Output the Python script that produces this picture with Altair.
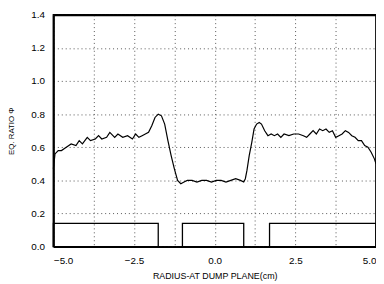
import altair as alt
import pandas as pd

radius = [-5.0, -4.95, -4.85, -4.75, -4.6, -4.45, -4.3, -4.2, -4.1, -3.95, -3.85, -3.7, -3.6, -3.5,
          -3.35, -3.25, -3.1, -3.0, -2.85, -2.7, -2.55, -2.45, -2.35, -2.25, -2.15, -2.05, -1.95,
          -1.85, -1.75, -1.65, -1.55, -1.45, -1.35, -1.25, -1.15, -1.05, -0.95, -0.85, -0.7, -0.55,
          -0.4, -0.25, -0.1, 0.05, 0.2, 0.35, 0.5, 0.65, 0.8, 0.9, 0.95, 1.0, 1.07, 1.15, 1.22, 1.3,
          1.38, 1.45, 1.55, 1.65, 1.75, 1.85, 1.95, 2.05, 2.15, 2.3, 2.45, 2.6, 2.75, 2.85, 2.95,
          3.05, 3.15, 3.25, 3.35, 3.45, 3.55, 3.65, 3.75, 3.85, 3.95, 4.05, 4.15, 4.25, 4.35, 4.45,
          4.55, 4.65, 4.75, 4.85, 4.95, 5.0]
ratio = [0.47, 0.56, 0.58, 0.58, 0.60, 0.62, 0.61, 0.64, 0.62, 0.66, 0.64, 0.65, 0.67, 0.65,
         0.66, 0.69, 0.66, 0.68, 0.66, 0.67, 0.65, 0.68, 0.66, 0.67, 0.68, 0.69, 0.73,
         0.78, 0.80, 0.79, 0.74, 0.64, 0.55, 0.47, 0.40, 0.38, 0.39, 0.40, 0.40, 0.39,
         0.40, 0.40, 0.39, 0.40, 0.40, 0.39, 0.40, 0.41, 0.40, 0.39, 0.41, 0.46, 0.55, 0.63, 0.71, 0.74,
         0.75, 0.74, 0.70, 0.67, 0.68, 0.67, 0.68, 0.66, 0.68, 0.67, 0.68, 0.68, 0.67, 0.66, 0.68,
         0.70, 0.68, 0.71, 0.70, 0.71, 0.69, 0.70, 0.66, 0.67, 0.68, 0.70, 0.69, 0.67, 0.66, 0.64,
         0.64, 0.61, 0.60, 0.57, 0.53, 0.50]

box_start = [-5.0, -1.0, 1.7]
box_end = [-1.75, 0.9, 5.0]
box_height = [0.14, 0.14, 0.14]

x_grid = [-5.0, -3.75, -2.5, -1.25, 0.0, 1.25, 2.5, 3.75, 5.0]
y_grid = [0.0, 0.2, 0.4, 0.6, 0.8, 1.0, 1.2, 1.4]

curve = pd.DataFrame({"r": radius, "phi": ratio})
boxes = pd.DataFrame({"x0": box_start, "x1": box_end, "h": box_height})

FONT = "Liberation Sans"
W, H = 327, 235

xscale = alt.Scale(domain=[-5, 5], nice=False, zero=False)
yscale = alt.Scale(domain=[0, 1.4], nice=False, zero=False)

xaxis = alt.Axis(values=x_grid, title="RADIUS-AT DUMP PLANE(cm)",
                 labelExpr="datum.value % 2.5 == 0 ? format(datum.value, '.1f') : ''",
                 labelOverlap=False,
                 grid=True, gridDash=[1, 3], gridColor="#555", gridWidth=1,
                 domainColor="black", domainWidth=2, ticks=False,
                 labelFont=FONT, labelFontSize=10, labelColor="black", labelPadding=9,
                 titleFont=FONT, titleFontSize=9, titleFontWeight="normal", titleColor="black",
                 titlePadding=6)
yaxis = alt.Axis(values=y_grid, title="EQ. RATIO Φ", format=".1f", labelOverlap=False,
                 grid=True, gridDash=[1, 3], gridColor="#555", gridWidth=1,
                 domainColor="black", domainWidth=2, ticks=False,
                 labelFont=FONT, labelFontSize=10, labelColor="black", labelPadding=9,
                 titleFont=FONT, titleFontSize=8, titleFontWeight="normal", titleColor="black",
                 titlePadding=16)

frame_x = alt.Axis(orient="top", labels=False, ticks=False, grid=False, title=None,
                   domainColor="black", domainWidth=2)
frame_y = alt.Axis(orient="right", labels=False, ticks=False, grid=False, title=None,
                   domainColor="black", domainWidth=2)

line = alt.Chart(curve).mark_line(color="black", strokeWidth=1.2).encode(
    x=alt.X("r:Q", scale=xscale, axis=xaxis),
    y=alt.Y("phi:Q", scale=yscale, axis=yaxis),
)

rects = alt.Chart(boxes).mark_rect(filled=False, stroke="black", strokeWidth=1.3).encode(
    x=alt.X("x0:Q", scale=xscale, axis=frame_x),
    x2="x1:Q",
    y=alt.Y("h:Q", scale=yscale, axis=frame_y),
    y2=alt.datum(0),
)

chart = alt.layer(line, rects).resolve_axis(x="independent", y="independent").properties(
    width=W, height=H,
    background="white",
    autosize=alt.AutoSizeParams(type="none"),
    padding={"left": 46, "top": 5, "right": 0, "bottom": 36},
).configure_view(stroke="black", strokeWidth=1.5)

chart.save("out.html", embed_options={"renderer": "svg", "actions": False})
